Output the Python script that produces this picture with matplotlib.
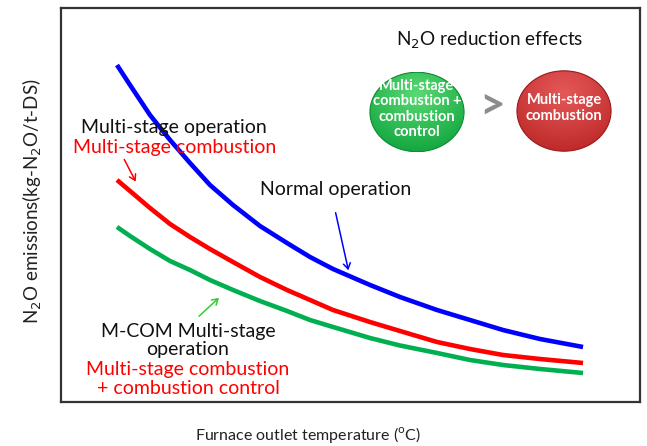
import numpy as np
import matplotlib
matplotlib.use("Agg")
import matplotlib.pyplot as plt
from matplotlib.patches import Ellipse, FancyArrowPatch

plt.rcParams['font.family'] = ['Lato', 'DejaVu Sans']

# ---- data (arbitrary units, no ticks on the original) ----
temperature = [9.67, 11.92, 15.37, 18.83, 22.28, 25.73, 29.71, 34.37, 39.03,
               43.01, 46.98, 53.37, 58.55, 64.94, 70.64, 76.34, 82.73, 90.16]
normal_operation = [85.53, 80.46, 72.84, 66.50, 60.66, 55.08, 50.00, 44.67, 40.36,
                    36.80, 33.76, 29.70, 26.65, 23.35, 20.81, 18.27, 15.99, 13.96]
multi_stage_combustion = [56.35, 53.55, 49.24, 45.18, 41.88, 38.83, 35.53, 31.73, 28.43,
                          25.89, 23.35, 20.30, 18.02, 15.23, 13.45, 11.93, 10.91, 9.90]
multi_stage_plus_control = [44.42, 42.13, 38.83, 35.79, 33.50, 30.96, 28.43, 25.63, 23.10,
                            20.81, 19.04, 16.24, 14.34, 12.44, 10.66, 9.39, 8.38, 7.36]

W, H = 647, 446
fig = plt.figure(figsize=(W / 100, H / 100), dpi=100)

def fx(px):
    return px / W

def fy(py):
    return 1 - py / H

L, R, T, B = 61, 640, 8, 402
ax = fig.add_axes([fx(L), fy(B), fx(R) - fx(L), fy(T) - fy(B)])
ax.set_xlim(0, 100)
ax.set_ylim(0, 100)
ax.set_xticks([])
ax.set_yticks([])
for s in ax.spines.values():
    s.set_color('#333333')
    s.set_linewidth(1.6)

lw = 3.3
ax.plot(temperature, normal_operation, color='#0000FF', lw=lw, solid_capstyle='butt', solid_joinstyle='round')
ax.plot(temperature, multi_stage_combustion, color='#FF0000', lw=lw, solid_capstyle='butt', solid_joinstyle='round')
ax.plot(temperature, multi_stage_plus_control, color='#00B050', lw=lw, solid_capstyle='butt', solid_joinstyle='round')

# axis labels
fig.text(fx(32), fy(201), 'N$_2$O emissions(kg-N$_2$O/t-DS)', rotation=90,
         ha='center', va='center', fontsize=13.5, color='#222222')
fig.text(fx(308), fy(435), 'Furnace outlet temperature ($^{\\mathrm{o}}$C)',
         ha='center', va='center', fontsize=11.5, color='#222222')

# annotations
fs = 14
fig.text(fx(174), fy(128), 'Multi-stage operation', ha='center', va='center', fontsize=fs, color='#111111')
fig.text(fx(175), fy(147), 'Multi-stage combustion', ha='center', va='center', fontsize=fs, color='#FF0000')
fig.text(fx(336), fy(190), 'Normal operation', ha='center', va='center', fontsize=fs, color='#111111')
fig.text(fx(188), fy(331), 'M-COM Multi-stage', ha='center', va='center', fontsize=fs, color='#111111')
fig.text(fx(188), fy(350), 'operation', ha='center', va='center', fontsize=fs, color='#111111')
fig.text(fx(188), fy(370), 'Multi-stage combustion', ha='center', va='center', fontsize=fs, color='#FF0000')
fig.text(fx(188), fy(389), '+ combustion control', ha='center', va='center', fontsize=fs, color='#FF0000')

def arrow(x0, y0, x1, y1, color):
    fig.add_artist(FancyArrowPatch(
        (fx(x0), fy(y0)), (fx(x1), fy(y1)), transform=fig.transFigure,
        arrowstyle='->,head_length=4,head_width=2.5', color=color, lw=1.1))

arrow(123, 157, 137, 184, '#FF0000')
arrow(335, 210, 349, 273, '#0000FF')
arrow(197, 318, 221, 296, '#33CC33')

# title of inset
fig.text(fx(490), fy(40), 'N$_2$O reduction effects', ha='center', va='center', fontsize=13.7, color='#111111')

def bubble(cx, cy, w, h, light, dark, edge, text, ty):
    a = fig.add_axes([fx(cx - w / 2), fy(cy + h / 2), w / W, h / H])
    a.axis('off')
    a.set_xlim(0, 1)
    a.set_ylim(0, 1)
    yy, xx = np.mgrid[0:1:200j, 0:1:200j]
    d = np.sqrt((xx - 0.5) ** 2 + (yy - 0.28) ** 2) / 0.85
    t = np.clip(d, 0, 1)[..., None]
    img = np.array(light)[None, None, :] * (1 - t) + np.array(dark)[None, None, :] * t
    im = a.imshow(img, extent=[0, 1, 0, 1], origin='upper', aspect='auto')
    e = Ellipse((0.5, 0.5), 0.98, 0.98, transform=a.transAxes, facecolor='none',
                edgecolor=edge, lw=0.8)
    a.add_patch(e)
    im.set_clip_path(e)
    fig.text(fx(cx), fy(ty), text, ha='center', va='center', color='white', fontsize=10.5,
             fontweight='bold', linespacing=1.1)

bubble(417, 112, 96, 81, (0.35, 0.85, 0.45), (0.03, 0.62, 0.22), '#0a8a30',
       'Multi-stage\ncombustion +\ncombustion\ncontrol', 109)
bubble(564, 111, 96, 82, (0.90, 0.35, 0.35), (0.72, 0.13, 0.13), '#9a1a1a',
       'Multi-stage\ncombustion', 108)
fig.text(fx(492), fy(106), '>', ha='center', va='center', fontsize=32,
         fontweight='bold', color='#8c8c8c')

fig.savefig('out.png', dpi=100)
